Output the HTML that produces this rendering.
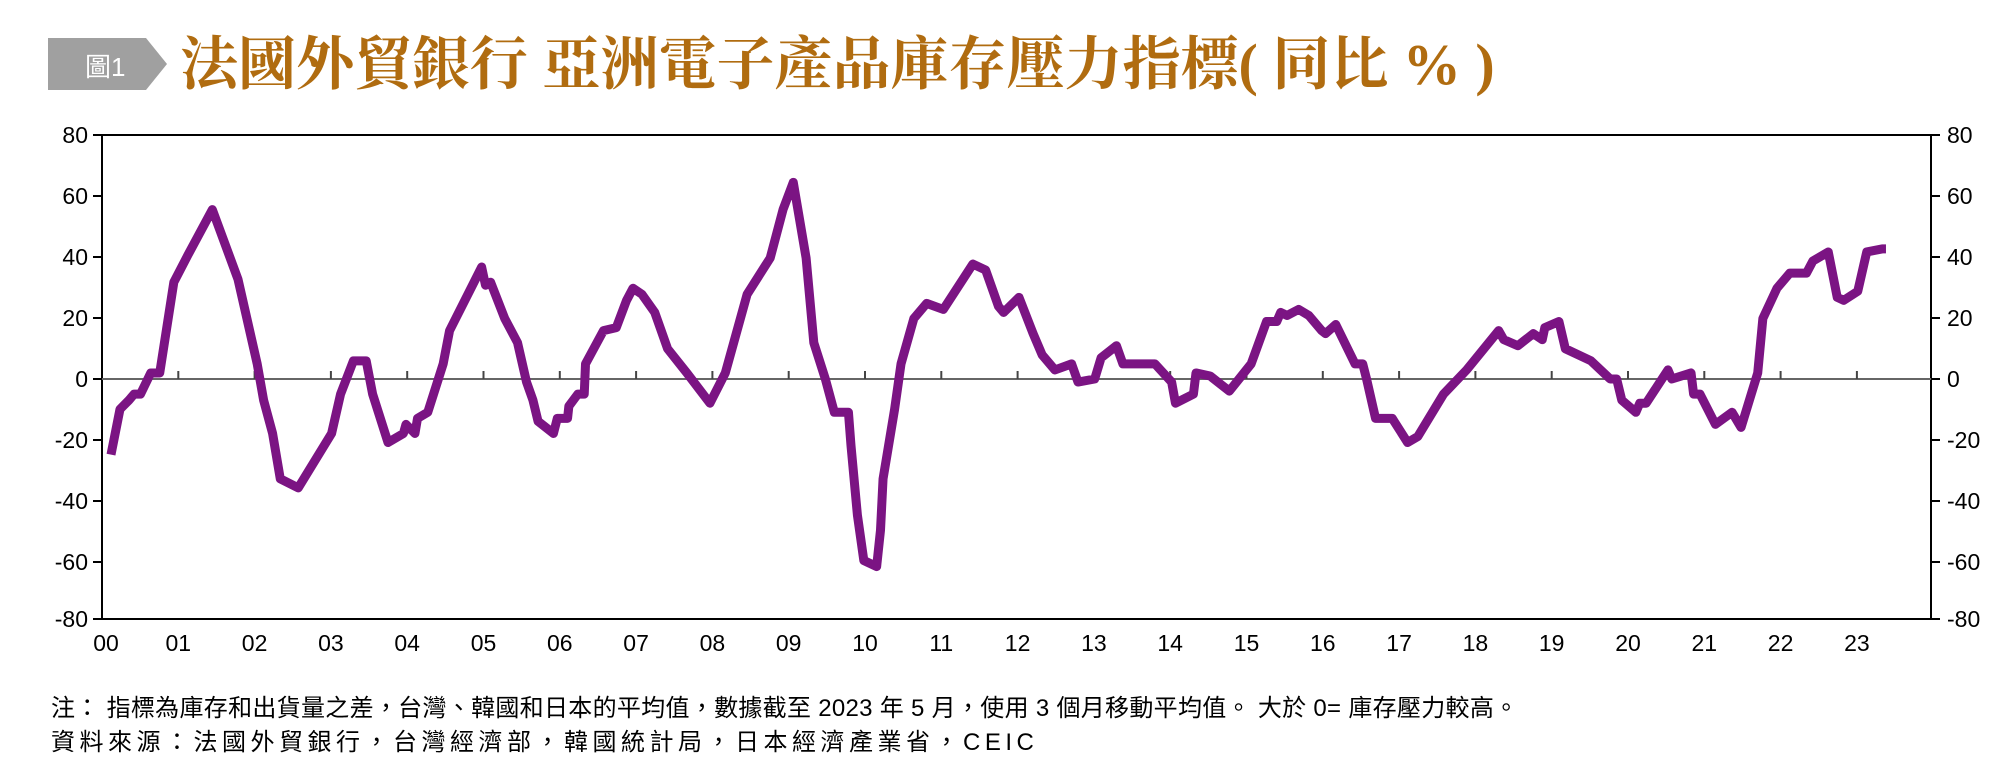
<!DOCTYPE html>
<html><head><meta charset="utf-8"><style>
body{margin:0;width:2012px;height:772px;background:#fff;overflow:hidden;position:relative;font-family:"Liberation Sans","Noto Sans CJK TC",sans-serif}
.t{position:absolute;white-space:nowrap}
</style></head><body>
<svg width="2012" height="772" style="position:absolute;left:0;top:0">
<polygon points="48,38 146,38 167,64 146,90 48,90" fill="#a0a0a0"/>
<text x="85" y="76" font-size="26" fill="#fff" font-family="Liberation Sans,Noto Sans CJK TC,sans-serif">圖1</text>
<text x="180" y="84" font-size="58" font-weight="bold" fill="#b06c10" font-family="Liberation Serif,Noto Serif CJK SC,serif">法國外貿銀行 亞洲電子產品庫存壓力指標( 同比 % )</text>
<rect x="102" y="135" width="1829" height="484" fill="none" stroke="#000" stroke-width="2"/>
<line x1="102" y1="379" x2="1931" y2="379" stroke="#666" stroke-width="2"/>
<g stroke="#000" stroke-width="2">
<line x1="93" y1="135" x2="102" y2="135"/><line x1="93" y1="196" x2="102" y2="196"/><line x1="93" y1="257" x2="102" y2="257"/><line x1="93" y1="318" x2="102" y2="318"/><line x1="93" y1="379" x2="102" y2="379"/><line x1="93" y1="440" x2="102" y2="440"/><line x1="93" y1="501" x2="102" y2="501"/><line x1="93" y1="562" x2="102" y2="562"/><line x1="93" y1="619" x2="102" y2="619"/>
<line x1="1931" y1="135" x2="1940" y2="135"/><line x1="1931" y1="196" x2="1940" y2="196"/><line x1="1931" y1="257" x2="1940" y2="257"/><line x1="1931" y1="318" x2="1940" y2="318"/><line x1="1931" y1="379" x2="1940" y2="379"/><line x1="1931" y1="440" x2="1940" y2="440"/><line x1="1931" y1="501" x2="1940" y2="501"/><line x1="1931" y1="562" x2="1940" y2="562"/><line x1="1931" y1="619" x2="1940" y2="619"/>
</g>
<g stroke="#444" stroke-width="2" id="xt"></g>
<g font-size="23" fill="#000" text-anchor="end">
<text x="88" y="143">80</text><text x="88" y="204">60</text><text x="88" y="265">40</text><text x="88" y="326">20</text><text x="88" y="387">0</text><text x="88" y="448">-20</text><text x="88" y="509">-40</text><text x="88" y="570">-60</text><text x="88" y="627">-80</text>
</g>
<g font-size="23" fill="#000">
<text x="1947" y="143">80</text><text x="1947" y="204">60</text><text x="1947" y="265">40</text><text x="1947" y="326">20</text><text x="1947" y="387">0</text><text x="1947" y="448">-20</text><text x="1947" y="509">-40</text><text x="1947" y="570">-60</text><text x="1947" y="627">-80</text>
</g>
<g id="xl" font-size="23" fill="#000" text-anchor="middle"></g>
<g transform="translate(0.7,379) scale(1.2825,-3.025)">
<polyline vector-effect="non-scaling-stroke" fill="none" stroke="#7b1483" stroke-width="9" stroke-linejoin="round" points="86,-25 93,-10 100,-7 104,-5 109,-5 117,2 124,2 135,32 146,41 165,56 185,33 200,5 205,-7 212,-18 218,-33 232,-36 258,-18 265,-5 275,6 285,6 290,-5 302,-21 314,-18 316,-15 323,-18 325,-13 333,-11 345,5 350,16 375,37 378,31 382,32 393,20 403,12 410,-1 415,-7 419,-14 431,-18 434,-13 442,-13 443,-9 450,-5 455,-5 456,5 470,16 480,17 488,26 493,30 500,28 510,22 520,10 535,2 553,-8 565,2 582,28 600,40 610,56 618,65 628,40 634,12 643,0 650,-11 661,-11 663,-22 668,-45 673,-60 683,-62 686,-50 688,-33 697,-10 702,5 712,20 722,25 735,23 758,38 768,36 778,24 782,22 794,27 805,15 812,8 822,3 835,5 840,-1 853,0 858,7 870,11 875,5 895,5 900,5 913,-1 916,-8 930,-5 932,2 943,1 958,-4 975,5 987,19 995,19 998,22 1003,21 1012,23 1020,21 1030,16 1033,15 1041,18 1056,5 1062,5 1065,0 1072,-13 1085,-13 1097,-21 1105,-19 1125,-5 1143,3 1168,16 1172,13 1183,11 1195,15 1202,13 1204,17 1215,19 1220,10 1240,6 1255,0 1260,0 1264,-7 1275,-11 1278,-8 1283,-8 1300,3 1303,0 1318,2 1320,-5 1325,-5 1337,-15 1350,-11 1357,-16 1370,2 1374,20 1385,30 1395,35 1408,35 1413,39 1425,42 1432,27 1437,26 1448,29 1455,42 1467,43 1470,43"/>
</g>
</svg>
<div class="t" style="left:51px;top:688px;font-size:24px;letter-spacing:0.3px">注：&nbsp;指標為庫存和出貨量之差，台灣、韓國和日本的平均值，數據截至 2023 年 5 月，使用 3 個月移動平均值。 大於 0= 庫存壓力較高。</div>
<div class="t" style="left:51px;top:722px;font-size:24px;letter-spacing:4.5px">資料來源：法國外貿銀行，台灣經濟部，韓國統計局，日本經濟產業省，CEIC</div>
<script>
var xt=document.getElementById('xt'),xl=document.getElementById('xl'),ns='http://www.w3.org/2000/svg';
for(var i=0;i<24;i++){var x=102+i*76.3;
if(i>0){var l=document.createElementNS(ns,'line');l.setAttribute('x1',x);l.setAttribute('x2',x);l.setAttribute('y1',371);l.setAttribute('y2',379);xt.appendChild(l);}
var t=document.createElementNS(ns,'text');t.setAttribute('x',x+(i==0?4:0));t.setAttribute('y',651);t.textContent=(i<10?'0':'')+i;xl.appendChild(t);}
</script>
</body></html>
